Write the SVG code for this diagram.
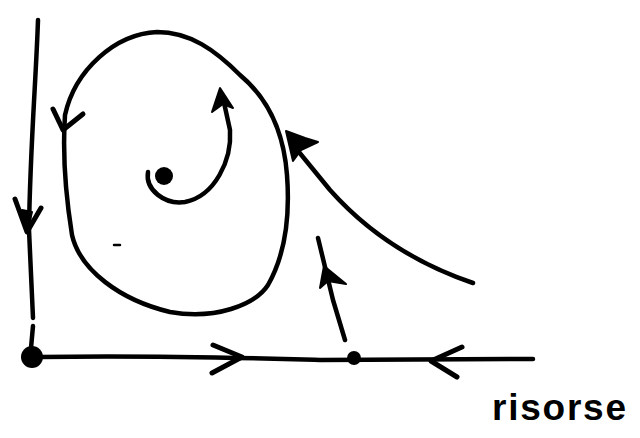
<svg xmlns="http://www.w3.org/2000/svg" width="640" height="438" viewBox="0 0 640 438">
<defs>
<style>
.ln{fill:none;stroke:#000;stroke-width:4.5;stroke-linecap:round;stroke-linejoin:round}
.ah{fill:none;stroke:#000;stroke-width:5;stroke-linecap:round;stroke-linejoin:round}
.fh{fill:#000;stroke:#000;stroke-width:2;stroke-linejoin:round}
.pt{fill:#000}
.lbl{font-family:"Liberation Sans",Arial,sans-serif;font-size:37px;font-weight:bold;fill:#000}
</style>
</defs>
<rect width="640" height="438" fill="#fff"/>
<g id="connectors">
  <!-- vertical axis -->
  <path class="ln" d="M38,20 C36,80 30,150 29,230 L33,318"/>
  <path class="ln" d="M33,326 L31,348"/>
  <path class="ah" d="M15,199 L27,232 L41,208"/>
  <polygon class="fh" points="22,210 27,232 32,212"/>
  <!-- horizontal axis -->
  <path class="ln" d="M40,357 C150,355 250,358 320,360 L533,359"/>
  <path class="ah" d="M213,345 L242,357 L212,373"/>
  <path class="ah" d="M462,347 L431,361 L457,377"/>
  <!-- closed orbit -->
  <path class="ln" d="M157,32 C115,34 75,70 65,115 C62,160 68,210 72,235 C80,270 120,300 170,312 C215,320 255,305 268,285 C285,255 290,215 287,175 C284,135 270,100 240,75 C215,50 190,32 157,32 Z"/>
  <path class="ah" d="M53,109 L63,130 L83,114"/>
  <!-- spiral out of centre -->
  <path class="ln" d="M148,172 C145,190 165,205 185,202 C215,196 232,160 230,130 L223,98"/>
  <polygon class="fh" points="220,88 212,112 223,104 233,108"/>
  <!-- curve from right -->
  <path class="ln" d="M473,283 C420,265 370,235 330,190 L294,146"/>
  <polygon class="fh" points="286,131 293,161 301,150 318,142 305,138"/>
  <!-- trajectory up from axis point -->
  <path class="ln" d="M345,340 L333,300 L318,238"/>
  <polygon class="fh" points="324,266 320,288 328,281 346,284"/>
  <!-- small mark -->
  <path class="ln" d="M114,245 L120,245" style="stroke-width:2.5"/>
</g>
<g id="origin"><circle class="pt" cx="32" cy="357" r="11"/></g>
<g id="axis-point"><circle class="pt" cx="354" cy="358" r="7"/></g>
<g id="centre"><circle class="pt" cx="164" cy="176" r="9"/></g>
<g id="label"><text class="lbl" x="492" y="420" textLength="134" lengthAdjust="spacing">risorse</text></g>
</svg>
